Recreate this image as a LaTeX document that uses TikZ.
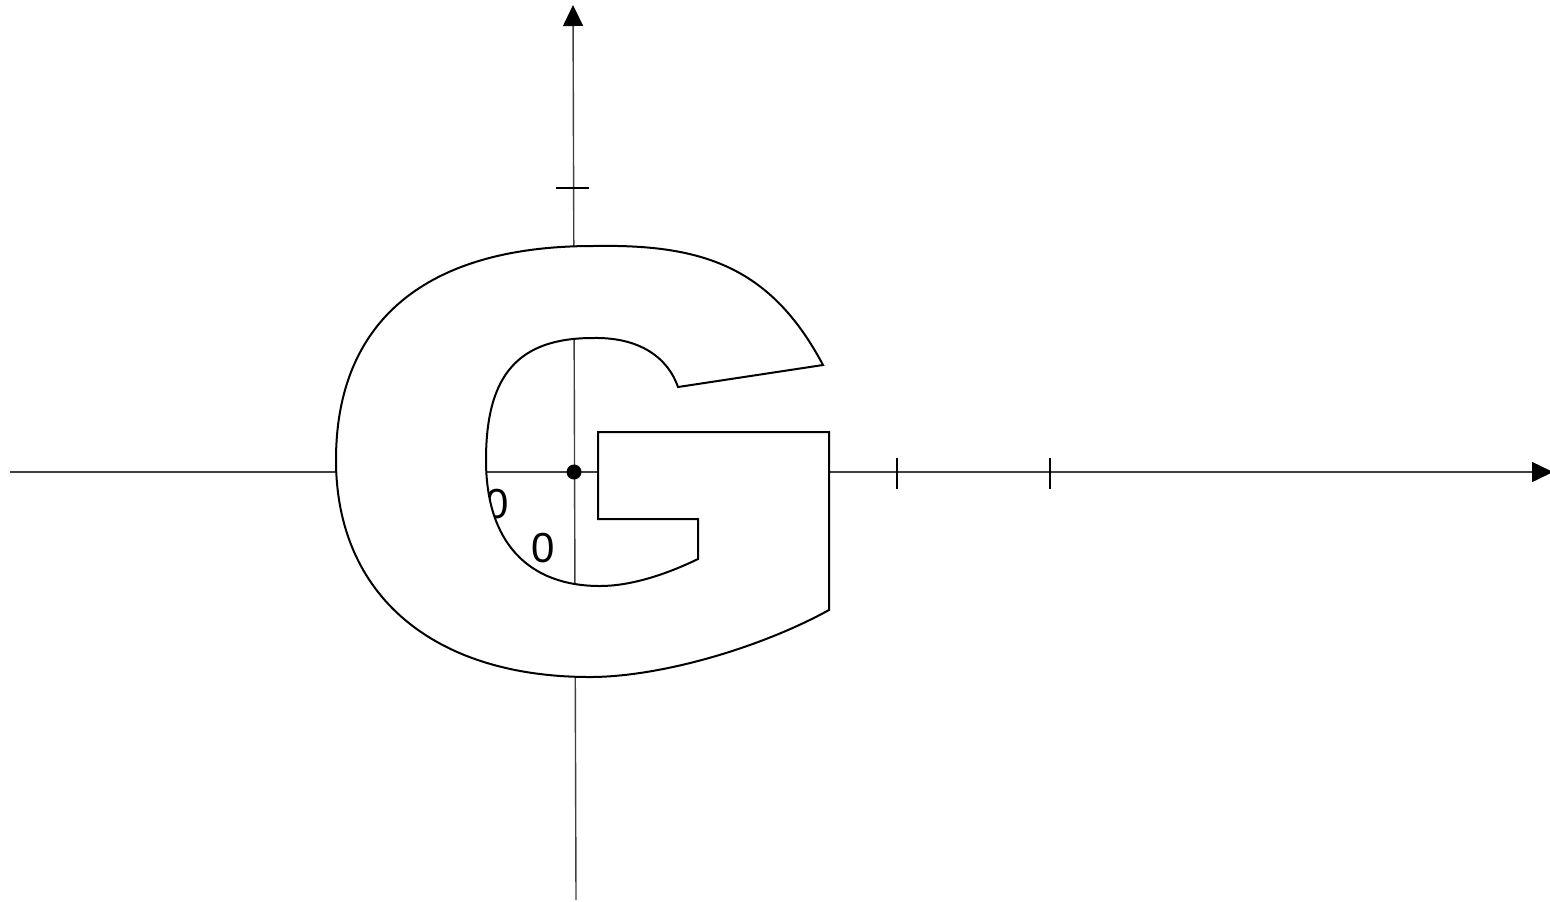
\documentclass[tikz,border=0pt]{standalone}
\usepackage{fontspec}
\setmainfont{Liberation Sans}
\usetikzlibrary{arrows.meta}
\definecolor{axisgray}{HTML}{404040}
\tikzset{
  axis/.style={draw=axisgray,line width=0.7pt,
               -{Triangle[length=10.5pt,width=10pt,color=black]}},
  tickmark/.style={draw=black,line width=1pt},
  glyph/.style={draw=black,fill=white,line width=1pt,line join=miter},
  zerolabel/.style={font=\fontsize{21}{25}\selectfont,inner sep=0pt}
}

\begin{document}
\begin{tikzpicture}[x=0.5pt,y=-0.5pt]
\useasboundingbox (0,0) rectangle (1550,901);
% axes
\coordinate (xl) at (10,472);
\coordinate (xr) at (1553,472);
\coordinate (yb) at (576,900);
\coordinate (yt) at (573,5);
\coordinate (o) at (574,472);
\draw[axis] (xl) -- (xr);
\draw[axis] (yb) -- (yt);
% labels
\node[zerolabel] (za) at (497,504) {0};
\node[zerolabel] (zb) at (543,548) {0};
% the G
\draw[glyph] (823,365) .. controls (770,265) and (700,244) .. (593,246)
  .. controls (426,246) and (336,321) .. (336,460)
  .. controls (336,595) and (433,677) .. (590,677)
  .. controls (660,677) and (760,648) .. (829,610)
  -- (829,432) -- (598,432) -- (598,519) -- (698,519) -- (698,559)
  .. controls (665,575) and (630,586) .. (600,586)
  .. controls (528,586) and (486,542) .. (486,460)
  .. controls (486,375) and (518,338) .. (593,338)
  .. controls (640,337) and (668,358) .. (678,387)
  -- cycle;
% ticks
\draw[tickmark] (556,188) -- (589,188);
\foreach \tx in {897,1050}
  \draw[tickmark] (\tx,458) -- (\tx,489);
\fill (o) circle (7.5);
\end{tikzpicture}
\end{document}
